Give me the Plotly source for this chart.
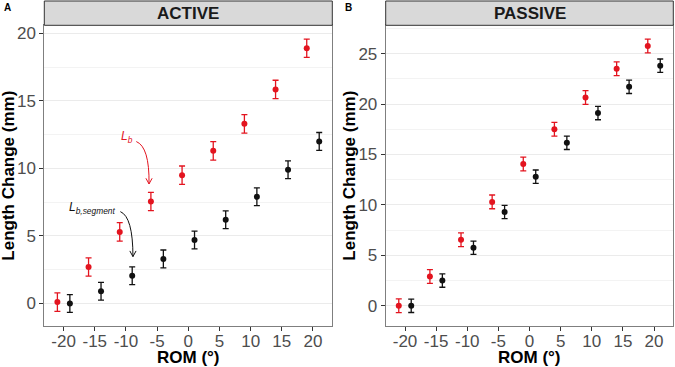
import plotly.graph_objects as go

# ---- data ----
rom_lb = [-21, -16, -11, -6, -1, 4, 9, 14, 19]
rom_seg = [-19, -14, -9, -4, 1, 6, 11, 16, 21]
active_lb = [0.1, 2.7, 5.3, 7.55, 9.5, 11.3, 13.3, 15.85, 18.9]
active_seg = [0.0, 0.9, 2.05, 3.3, 4.7, 6.2, 7.9, 9.9, 12.0]
passive_lb = [0.0, 2.9, 6.55, 10.3, 14.05, 17.5, 20.65, 23.5, 25.75]
passive_seg = [0.0, 2.5, 5.75, 9.3, 12.8, 16.15, 19.1, 21.7, 23.8]
active_lb_err = [0.68] * 9
active_seg_err = [0.66] * 9
passive_lb_err = [0.68] * 9
passive_seg_err = [0.66] * 9

x_ticks = [-20, -15, -10, -5, 0, 5, 10, 15, 20]
x_ticktext = ["-20", "-15", "-10", "-5", "0", "5", "10", "15", "20"]
ya_ticks = [0, 5, 10, 15, 20]
yb_ticks = [0, 5, 10, 15, 20, 25]
panels = ["ACTIVE", "PASSIVE"]
panel_tags = ["A", "B"]

RED = "#E3141F"
BLACK = "#111111"
FONT = "Liberation Sans, Arial, sans-serif"

fig = go.Figure()

def add_series(x, y, err, color, xa, ya):
    fig.add_trace(go.Scatter(
        x=x, y=y, mode="markers", xaxis=xa, yaxis=ya,
        marker=dict(color=color, size=6),
        error_y=dict(type="data", array=err, color=color, thickness=1.3, width=3),
        showlegend=False, hoverinfo="skip"))

add_series(rom_lb, active_lb, active_lb_err, RED, "x", "y")
add_series(rom_seg, active_seg, active_seg_err, BLACK, "x", "y")
add_series(rom_lb, passive_lb, passive_lb_err, RED, "x2", "y2")
add_series(rom_seg, passive_seg, passive_seg_err, BLACK, "x2", "y2")

W, H = 675, 367
dom_a = [44.3 / W, 332.3 / W]
dom_b = [385.7 / W, 673.3 / W]
plot_bottom = (H - 326) / H
plot_top = (H - 25.3) / H
strip_top = (H - 1) / H

axis_common = dict(
    showgrid=False, zeroline=False, ticks="outside", ticklen=4, tickwidth=1,
    tickcolor="#333333", tickfont=dict(family=FONT, size=17, color="#4D4D4D"),
    showline=True, mirror=True, linecolor="#7F7F7F", linewidth=1,
)
xaxis_common = dict(axis_common, range=[-23.1, 23.1], tickmode="array",
                    tickvals=x_ticks, ticktext=x_ticktext, ticklabelstandoff=-4)
yaxis_common = dict(axis_common, showgrid=True, gridcolor="#EBEBEB", gridwidth=1,
                    minor=dict(dtick=2.5, tick0=2.5, showgrid=True,
                               gridcolor="#F3F3F3", gridwidth=0.6, ticks=""))

fig.update_layout(
    width=W, height=H, margin=dict(l=0, r=0, t=0, b=0),
    paper_bgcolor="white", plot_bgcolor="white",
    font=dict(family=FONT),
    xaxis=dict(xaxis_common, domain=dom_a, anchor="y"),
    yaxis=dict(yaxis_common, domain=[plot_bottom, plot_top], anchor="x",
               range=[-1.67, 20.6], tickmode="array", tickvals=ya_ticks),
    xaxis2=dict(xaxis_common, domain=dom_b, anchor="y2"),
    yaxis2=dict(yaxis_common, domain=[plot_bottom, plot_top], anchor="x2",
                range=[-2.0, 27.8], tickmode="array", tickvals=yb_ticks),
)

shapes = []
annotations = []
for i, (xa, dom) in enumerate([("x", dom_a), ("x2", dom_b)]):
    shapes.append(dict(type="rect", xref="paper", yref="paper",
                       x0=dom[0], x1=dom[1], y0=plot_top, y1=strip_top,
                       fillcolor="#D9D9D9", line=dict(color="#333333", width=1)))
    annotations.append(dict(xref="paper", yref="paper", x=(dom[0] + dom[1]) / 2,
                            y=(plot_top + strip_top) / 2, text="<b>%s</b>" % panels[i],
                            showarrow=False, xanchor="center", yanchor="middle",
                            font=dict(family=FONT, size=17, color="#1A1A1A")))
    annotations.append(dict(xref="paper", yref="paper", x=(dom[0] + dom[1]) / 2,
                            y=(H - 357) / H, text="<b>ROM (°)</b>",
                            showarrow=False, xanchor="center", yanchor="middle",
                            font=dict(family=FONT, size=17, color="black")))
    annotations.append(dict(xref="paper", yref="paper",
                            x=(9 if i == 0 else 350) / W,
                            y=(plot_bottom + plot_top) / 2,
                            text="<b>Length Change (mm)</b>", textangle=-90,
                            showarrow=False, xanchor="center", yanchor="middle",
                            font=dict(family=FONT, size=17, color="black")))
    annotations.append(dict(xref="paper", yref="paper",
                            x=(2 if i == 0 else 343) / W, y=(H - 8) / H,
                            text="<b>%s</b>" % panel_tags[i], showarrow=False,
                            xanchor="left", yanchor="middle",
                            font=dict(family=FONT, size=10, color="black")))

# curved annotation arrows (panel A) with open arrowheads
def curved_arrow(x0, y0, cx, cy, x1, y1, color):
    shapes.append(dict(type="path", xref="x", yref="y",
                       path="M %s,%s Q %s,%s %s,%s" % (x0, y0, cx, cy, x1, y1),
                       line=dict(color=color, width=1)))
    hx, hy = 0.5, 0.42
    shapes.append(dict(type="path", xref="x", yref="y",
                       path="M %s,%s L %s,%s L %s,%s" % (x1 - hx, y1 + hy, x1, y1, x1 + hx, y1 + hy),
                       line=dict(color=color, width=1)))

curved_arrow(-8.34, 11.99, -6.22, 11.59, -6.3, 8.85, RED)
curved_arrow(-10.9, 6.8, -8.88, 6.41, -8.88, 3.47, BLACK)

annotations.append(dict(xref="x", yref="y", x=-8.6, y=12.3,
                        text="<i>L</i><sub><i>b</i></sub>", showarrow=False,
                        xanchor="right", yanchor="middle",
                        font=dict(family=FONT, size=12, color=RED)))
annotations.append(dict(xref="x", yref="y", x=-11.4, y=7.07,
                        text="<i>L</i><sub><i>b,segment</i></sub>", showarrow=False,
                        xanchor="right", yanchor="middle",
                        font=dict(family=FONT, size=12, color=BLACK)))

fig.update_layout(shapes=shapes, annotations=annotations)
fig.write_html("out.html", config={"displayModeBar": False},
               post_script="document.body.style.margin='0';document.body.style.overflow='hidden';")
